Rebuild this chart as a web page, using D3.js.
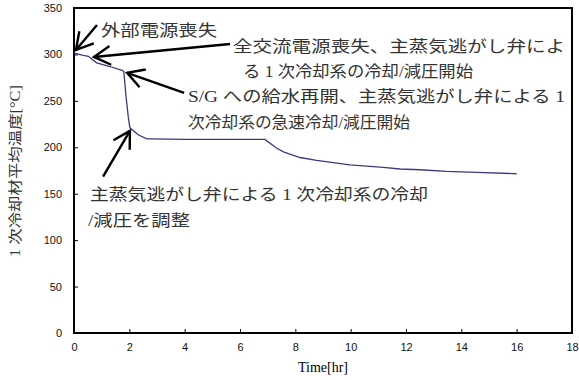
<!DOCTYPE html>
<html>
<head>
<meta charset="utf-8">
<script src="https://cdn.jsdelivr.net/npm/d3@7"></script>
<style>
  body { margin: 0; background: #fff; }
  .tick text { font-family: "Liberation Sans", Arial, sans-serif; font-size: 11px; fill: #111; }
  .note { font-family: "Liberation Serif", "Noto Sans CJK JP", serif; font-size: 16px; fill: #333; }
</style>
</head>
<body>
<svg width="579" height="380"></svg>
<script>
// time [hr] and primary coolant average temperature [°C]
var times = [0, 0.04, 0.34, 0.52, 0.64, 0.82, 1.3, 1.76, 1.8, 1.88, 1.96, 2.02, 2.32, 2.63, 2.8, 4, 6.9,
             7.33, 7.57, 8.17, 8.77, 9.97, 11.18, 11.78, 12.5, 13.47, 14.55, 16.0];
var temps = [302, 301, 299, 298, 295, 291, 287, 282.5, 281.5, 255, 233, 221, 213.5, 209, 209, 208.5, 208.5,
             199, 195, 189, 186, 181, 178.3, 176.6, 175.8, 174, 173, 171.5];

var xTicks = [0, 2, 4, 6, 8, 10, 12, 14, 16, 18];
var yTicks = [0, 50, 100, 150, 200, 250, 300, 350];

var noteLines = [
  "外部電源喪失",
  "全交流電源喪失、主蒸気逃がし弁によ",
  "る 1 次冷却系の冷却/減圧開始",
  "S/G への給水再開、主蒸気逃がし弁による 1",
  "次冷却系の急速冷却/減圧開始",
  "主蒸気逃がし弁による 1 次冷却系の冷却",
  "/減圧を調整"
];
// arrows in data units: [tail time, tail temp, tip time, tip temp]
var arrows = [
  [0.83, 331.7, 0.07, 304.8],
  [5.64, 311.3, 0.72, 297.3],
  [3.98, 258.6, 1.92, 280.1],
  [1.05, 168.3, 2.02, 217.7]
];

var svg = d3.select("svg"),
    margin = {top: 8, right: 7, bottom: 47, left: 74},
    width = 579 - margin.left - margin.right,
    height = 380 - margin.top - margin.bottom;

var g = svg.append("g")
    .attr("transform", "translate(" + margin.left + "," + margin.top + ")");

var x = d3.scaleLinear().domain([0, 18]).range([0, width]);
var y = d3.scaleLinear().domain([0, 350]).range([height, 0]);

var xAxis = d3.axisBottom(x).tickValues(xTicks).tickSizeInner(-4).tickSizeOuter(0).tickPadding(10);
var yAxis = d3.axisLeft(y).tickValues(yTicks).tickSizeInner(-4).tickSizeOuter(0).tickPadding(12);

g.append("g").attr("transform", "translate(0," + height + ")").call(xAxis)
  .call(function(a) { a.select(".domain").remove(); });
g.append("g").call(yAxis)
  .call(function(a) { a.select(".domain").remove(); });
g.selectAll(".tick line").attr("stroke", "#000").attr("stroke-width", 1);

g.append("rect")
  .attr("width", width).attr("height", height)
  .attr("fill", "none").attr("stroke", "#000").attr("stroke-width", 2);

var line = d3.line()
  .x(function(d) { return x(d[0]); })
  .y(function(d) { return y(d[1]); });

g.append("path")
  .datum(d3.zip(times, temps))
  .attr("d", line)
  .attr("fill", "none")
  .attr("stroke", "#3a3a80")
  .attr("stroke-width", 1.3);

// arrows with open heads
arrows.forEach(function(a) {
  var x1 = x(a[0]), y1 = y(a[1]), x2 = x(a[2]), y2 = y(a[3]);
  var ang = Math.atan2(y1 - y2, x1 - x2), L = 19, h = 0.52;
  g.append("line")
    .attr("x1", x1).attr("y1", y1).attr("x2", x2).attr("y2", y2)
    .attr("stroke", "#000").attr("stroke-width", 2.4);
  g.append("path")
    .attr("d", "M" + (x2 + L * Math.cos(ang - h)) + "," + (y2 + L * Math.sin(ang - h)) +
               "L" + x2 + "," + y2 +
               "L" + (x2 + L * Math.cos(ang + h)) + "," + (y2 + L * Math.sin(ang + h)))
    .attr("fill", "none").attr("stroke", "#000").attr("stroke-width", 2.4);
});

// annotation text: [x, baseline, length]
var notePos = [[101, 36, 116], [233, 52, 332], [243, 77, 230], [188, 102, 377], [188, 128, 222], [90, 200, 338], [88, 226, 102]];
noteLines.forEach(function(t, i) {
  svg.append("text").attr("class", "note")
    .attr("x", notePos[i][0]).attr("y", notePos[i][1])
    .attr("textLength", notePos[i][2]).attr("lengthAdjust", "spacingAndGlyphs")
    .text(t);
});

svg.append("text")
  .attr("x", margin.left + width / 2).attr("y", 372)
  .attr("text-anchor", "middle")
  .style("font-family", "Liberation Serif, serif").style("font-size", "15px")
  .attr("textLength", 50).attr("lengthAdjust", "spacingAndGlyphs")
  .text("Time[hr]");

svg.append("text")
  .attr("transform", "translate(20," + 171 + ") rotate(-90)")
  .attr("text-anchor", "middle")
  .style("font-family", "Liberation Serif, Noto Sans CJK JP, serif").style("font-size", "14px")
  .style("fill", "#333")
  .attr("textLength", 172).attr("lengthAdjust", "spacingAndGlyphs")
  .text("1 次冷却材平均温度[°C]");
</script>
</body>
</html>
